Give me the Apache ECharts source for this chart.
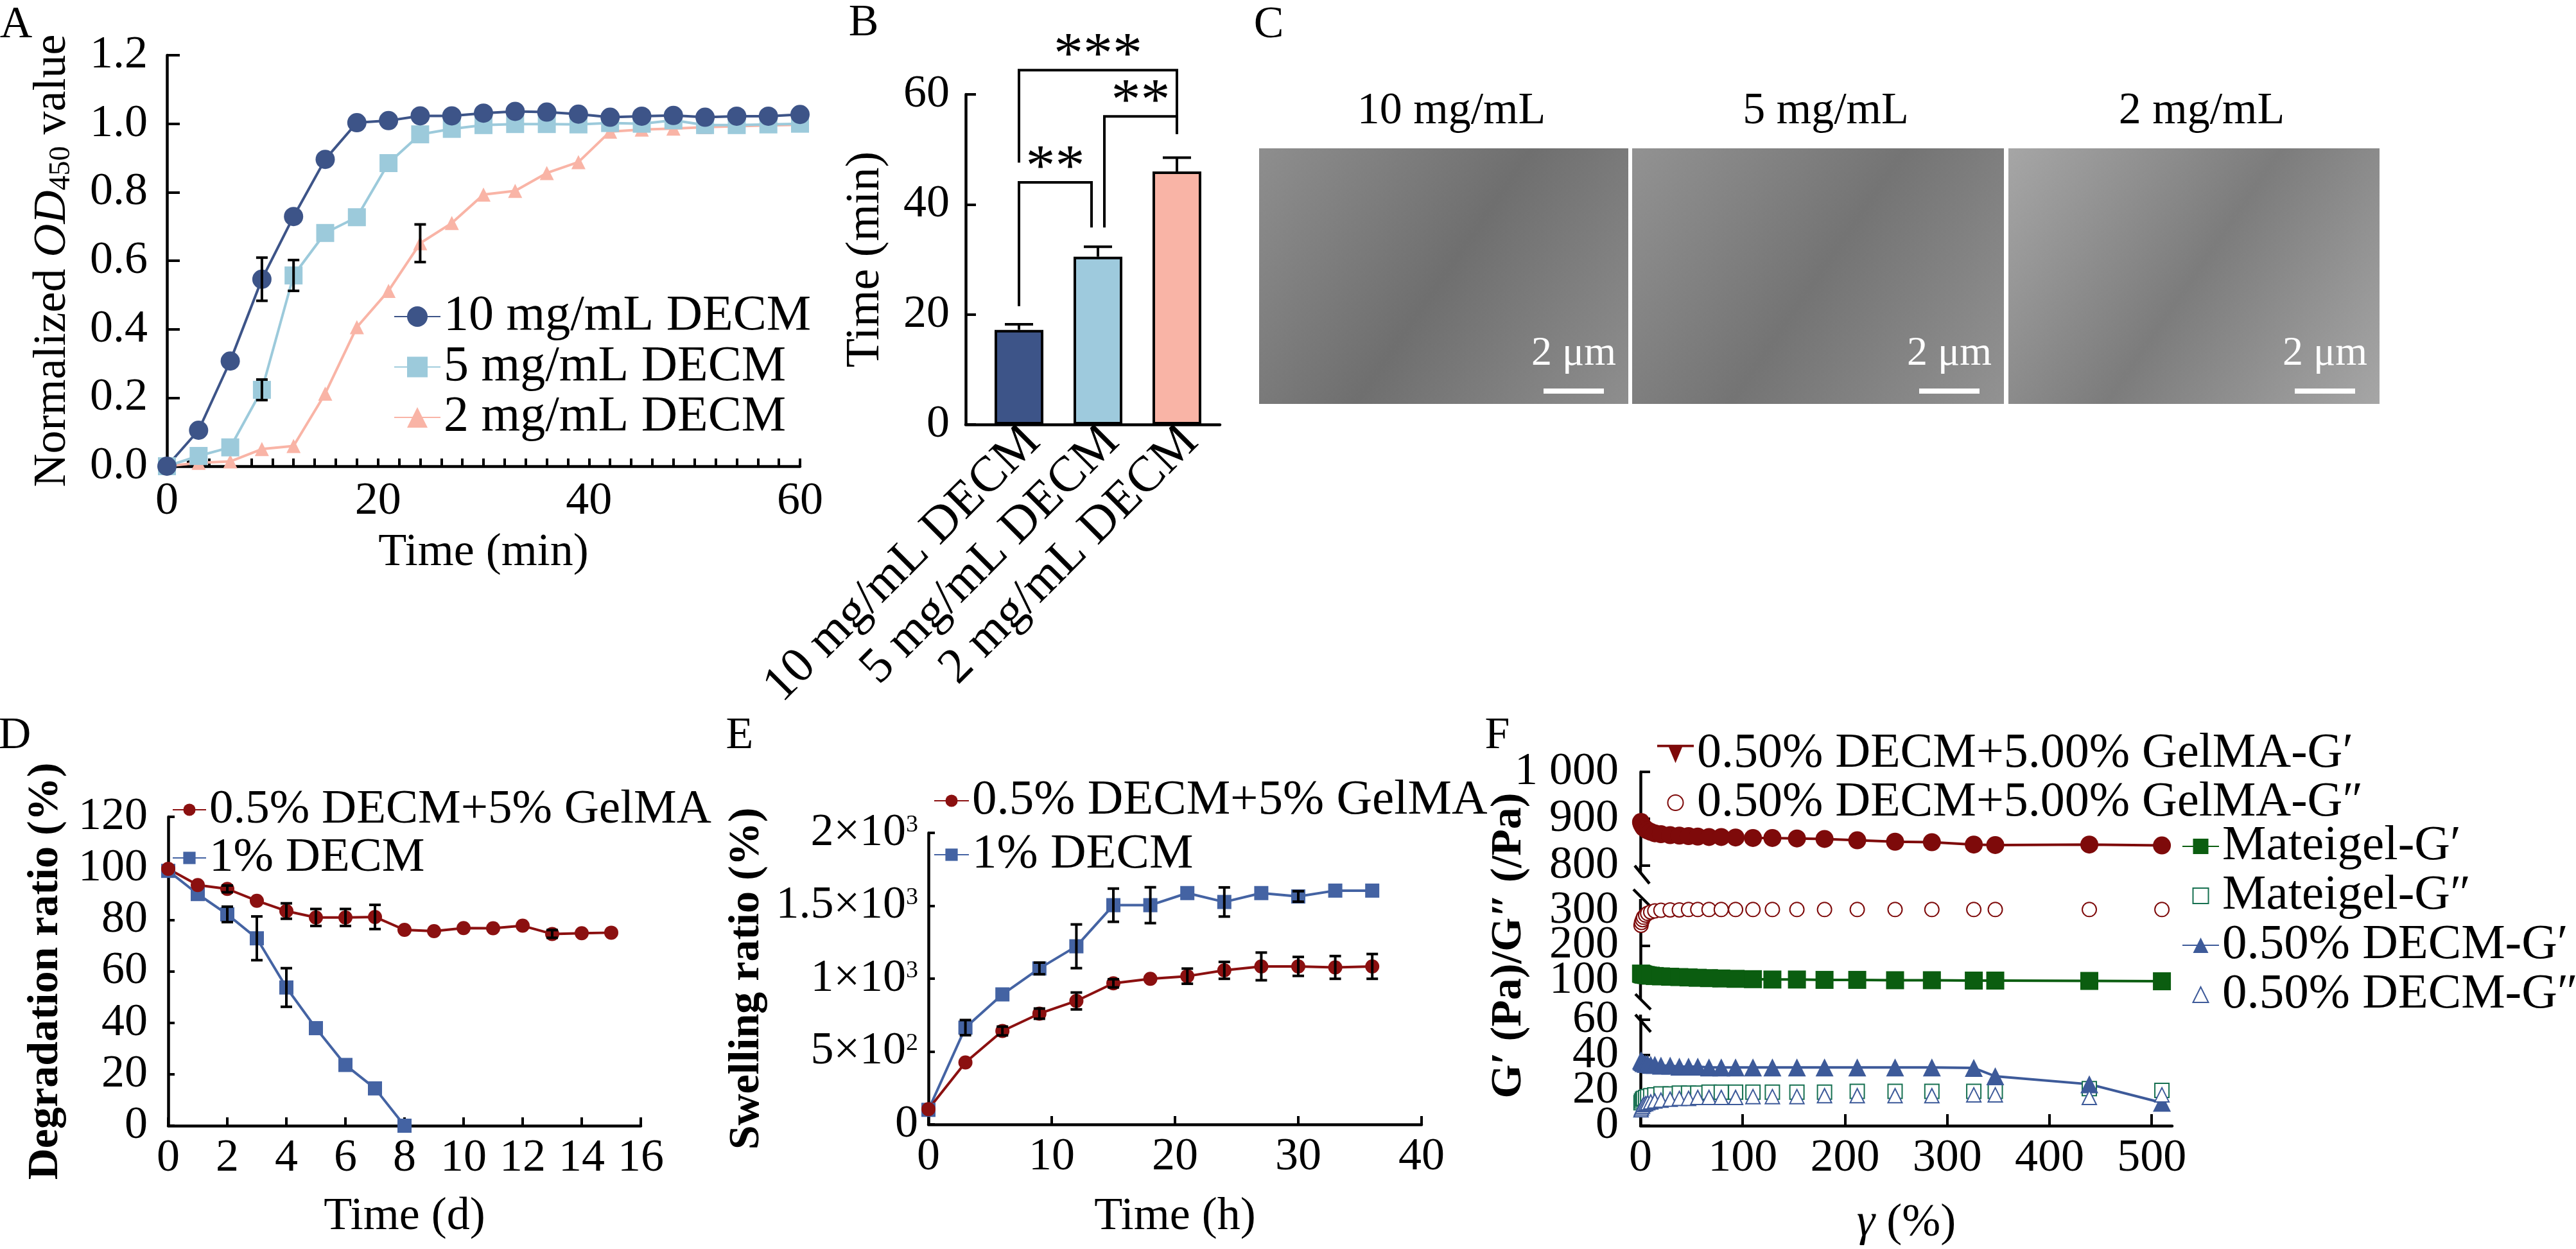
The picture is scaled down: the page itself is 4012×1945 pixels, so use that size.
<!DOCTYPE html>
<html>
<head>
<meta charset="utf-8">
<title>DECM hydrogel characterisation</title>
<script src="https://cdn.jsdelivr.net/npm/echarts@6.0.0/dist/echarts.min.js"></script>
<style>
  html, body { margin: 0; padding: 0; background: #fff; }
  #chart { width: 4012px; height: 1945px; }
</style>
</head>
<body>
<div id="chart"></div>
<script>
const FONT = 'Liberation Serif';

// A - gelation kinetics, normalized OD450
const gelMinutes = [0, 3, 6, 9, 12, 15, 18, 21, 24, 27, 30, 33, 36, 39, 42, 45, 48, 51, 54, 57, 60];
const od10 = [0, 0.105, 0.307, 0.546, 0.729, 0.896, 1.003, 1.009, 1.023, 1.023, 1.031, 1.036, 1.034, 1.028, 1.019, 1.022, 1.024, 1.019, 1.022, 1.022, 1.027];
const od5 = [0, 0.03, 0.055, 0.223, 0.557, 0.681, 0.727, 0.885, 0.969, 0.985, 0.996, 0.999, 0.999, 0.998, 1.002, 1.0, 1.01, 0.996, 0.996, 0.998, 1.0];
const od2 = [0, 0.01, 0.014, 0.05, 0.059, 0.212, 0.406, 0.512, 0.651, 0.71, 0.793, 0.804, 0.856, 0.888, 0.977, 0.983, 0.986, 0.99, 0.993, 0.995, 0.997];
const od10Sd = [0, 0, 0, 0.063, 0, 0, 0, 0, 0, 0, 0, 0, 0, 0, 0, 0, 0, 0, 0, 0, 0];
const od5Sd = [0, 0, 0, 0.03, 0.045, 0, 0, 0, 0, 0, 0, 0, 0, 0, 0, 0, 0, 0, 0, 0, 0];
const od2Sd = [0, 0, 0, 0, 0, 0, 0, 0, 0.055, 0, 0, 0, 0, 0, 0, 0, 0, 0, 0, 0, 0];

// B - gelation time
const gelGroups = ['10 mg/mL DECM', '5 mg/mL DECM', '2 mg/mL DECM'];
const gelGroupPos = [0, 1, 2];
const gelTimeMean = [17.2, 30.5, 46.0];
const gelTimeSd = [1.0, 1.8, 2.5];
// [left group, right group, left foot, right foot, bracket height]
const sigPairs = [[0, 2, 47.6, 52.8, 64.4], [0, 1, 21.5, 35.8, 44.0], [1, 2, 35.8, 52.8, 56.0]];
const sigMarks = ['***', '**', '**'];

// C - SEM panels
const semLabels = ['10 mg/mL', '5 mg/mL', '2 mg/mL'];

// D - degradation
const degDays = [0, 1, 2, 3, 4, 5, 6, 7, 8, 9, 10, 11, 12, 13, 14, 15];
const degBlend = [99.8, 93.5, 92.0, 87.4, 83.4, 80.9, 80.9, 81.1, 76.1, 75.6, 76.8, 76.7, 77.7, 74.5, 74.8, 75.0];
const degBlendSd = [0, 0, 1.3, 0, 3.0, 3.3, 3.3, 4.7, 0, 0, 0, 0, 0, 1.5, 0, 0];
const degDecmDays = [0, 1, 2, 3, 4, 5, 6, 7, 8];
const degDecm = [99.0, 90.0, 82.1, 72.8, 53.7, 37.9, 23.6, 14.5, 0];
const degDecmSd = [0, 0, 3.0, 8.5, 7.5, 0, 0, 0, 0];

// E - swelling
const swellHours = [0, 3, 6, 9, 12, 15, 18, 21, 24, 27, 30, 33, 36];
const swellBlend = [105, 425, 641, 760, 847, 968, 999, 1017, 1057, 1084, 1084, 1077, 1084];
const swellBlendSd = [0, 0, 30, 35, 58, 28, 0, 52, 58, 95, 65, 78, 85];
const swellDecm = [100, 664, 892, 1070, 1222, 1504, 1504, 1587, 1526, 1587, 1564, 1604, 1604];
const swellDecmSd = [0, 52, 0, 40, 150, 114, 123, 0, 100, 0, 36, 0, 0];
const swellTicks = [0, 500, 1000, 1500, 2000];
const swellTickText = ['0', '5×10^2', '1×10^3', '1.5×10^3', '2×10^3'];

// F - strain sweep
const strain = [0.5, 1, 2, 3, 5, 7, 10, 14, 20, 29, 38, 47, 56, 67, 79, 93, 110, 129, 153, 180, 212, 249, 285, 326, 347, 439, 510];
const blendG1 = [893, 889, 885, 881, 878, 875, 872, 869, 867, 865, 864, 863, 862, 861, 861, 860, 859, 859, 858, 857, 854, 851, 850, 845, 844, 845, 843];
const blendG2 = [258, 266, 274, 281, 287, 292, 296, 299, 301, 302, 302, 303, 303, 303, 303, 303, 303, 303, 303, 303, 303, 303, 303, 303, 303, 303, 303];
const mateG1 = [120, 119, 118, 117, 116, 115, 114, 113, 112, 111, 110, 109, 108, 107, 106, 105, 104, 103, 103, 102, 102, 101, 101, 100, 100, 99, 98];
const mateG2 = [13, 14, 15, 15.5, 16, 16.5, 17, 17.5, 18, 18, 18.5, 18.5, 18.5, 19, 19, 19, 19, 19, 19, 19, 19.5, 19.5, 19.5, 19.5, 19.5, 21, 20];
const decmG1 = [37, 36.5, 36, 35.5, 35, 35, 34.5, 34.5, 34, 34, 33.5, 33.5, 33.5, 33, 33, 33, 33, 33, 33, 33, 33, 33, 33, 32.7, 28, 23.5, 13];
const decmG2 = [9, 10, 11, 12, 12.5, 13, 13.5, 14, 14.5, 15, 15.5, 15.5, 16, 16, 16, 16, 16.5, 16.5, 16.5, 17, 17, 17, 17, 17.5, 17.5, 16, 17.5];
const fTopTickText = { 800: '800', 900: '900', 1000: '1 000' };

const C10 = '#3d5488', C5 = '#9ccadb', C2 = '#f9b4a6';
const RED = '#8b1010', BLUE = '#4463a3';
const FRED = '#7e0a0a', FGREEN = '#0b5d10', FGREEN2 = '#167050', FBLUE = '#3d5a99';

const chart = echarts.init(document.getElementById('chart'));

function pairs(xs, ys) { return xs.map((x, i) => [x, ys[i]]); }

function errRender(cap, upOnly) {
  return function (params, api) {
    const x = api.value(0), y = api.value(1), e = api.value(2);
    const hi = api.coord([x, y + e]);
    const lo = api.coord([x, upOnly ? y : y - e]);
    const st = { stroke: '#000', lineWidth: 4 };
    const kids = [
      { type: 'line', shape: { x1: hi[0], y1: hi[1], x2: lo[0], y2: lo[1] }, style: st },
      { type: 'line', shape: { x1: hi[0] - cap, y1: hi[1], x2: hi[0] + cap, y2: hi[1] }, style: st }
    ];
    if (!upOnly) kids.push({ type: 'line', shape: { x1: lo[0] - cap, y1: lo[1], x2: lo[0] + cap, y2: lo[1] }, style: st });
    return { type: 'group', children: kids };
  };
}

function errSeries(ax, xs, ys, sd, cap) {
  return {
    type: 'custom', xAxisIndex: ax, yAxisIndex: ax, silent: true, z: 6,
    renderItem: errRender(cap, false),
    data: xs.map((x, i) => [x, ys[i], sd[i]]).filter(d => d[2] > 0)
  };
}

function lineSeries(name, ax, xs, ys, color, symbol, size, lineW) {
  const empty = symbol.indexOf('empty') === 0;
  return {
    type: 'line', name, xAxisIndex: ax, yAxisIndex: ax, clip: false,
    data: pairs(xs, ys), symbol, symbolSize: size, showAllSymbol: true,
    color,
    lineStyle: { color, width: lineW },
    itemStyle: { color, borderColor: color, borderWidth: empty ? 3 : 0 },
    z: 3
  };
}

function sigRender(params, api) {
  const i0 = api.value(0), i1 = api.value(1);
  const a = api.coord([i0, api.value(2)]);
  const b = api.coord([i1, api.value(3)]);
  const top = api.coord([i0, api.value(4)])[1];
  const ax = a[0] + (i0 === 1 ? 10 : 0);
  const bx = b[0] - (i1 === 1 ? 10 : 0);
  return {
    type: 'group', children: [
      { type: 'polyline', shape: { points: [[ax, a[1]], [ax, top], [bx, top], [bx, b[1]]] }, style: { stroke: '#000', fill: 'none', lineWidth: 4 } },
      { type: 'text', style: { text: sigMarks[params.dataIndex], x: (ax + bx) / 2, y: top - 20, align: 'center', verticalAlign: 'middle', fontSize: 92, fontFamily: FONT, fill: '#000' } }
    ]
  };
}

function axis(o) {
  const a = {
    type: o.type || 'value', gridIndex: o.grid, show: o.show !== false,
    min: o.min, max: o.max, interval: o.interval,
    axisLine: { show: o.line !== false, onZero: false, lineStyle: { color: '#000', width: 4.5 } },
    axisTick: { show: true, inside: true, length: o.tick || 12, lineStyle: { color: '#000', width: 4 } },
    axisLabel: {
      color: '#000', fontFamily: FONT, fontSize: o.fs || 72, margin: o.margin, formatter: o.fmt,
      showMinLabel: o.showMin !== false, showMaxLabel: o.showMax !== false, hideOverlap: false,
      rotate: o.rotate || 0, rich: o.rich
    },
    splitLine: { show: false },
    name: o.name, nameLocation: 'middle', nameGap: o.nameGap,
    nameTextStyle: Object.assign({ color: '#000', fontFamily: FONT, fontSize: 72 }, o.nameStyle || {})
  };
  if (o.grid >= 4) a.position = o.position || 'left';
  if (o.custom) { a.axisTick.customValues = o.custom; a.axisLabel.customValues = o.custom; }
  if (o.minor) a.minorTick = { show: true, splitNumber: o.minor, length: o.tick || 12, lineStyle: { color: '#000', width: 4 } };
  return a;
}

function legendBox(names, left, firstRowY, rowH, iconW, iconH, fs, icons) {
  return {
    show: true, orient: 'vertical', left, top: firstRowY - rowH / 2, padding: 0,
    itemWidth: iconW, itemHeight: iconH, itemGap: 0, selectedMode: false,
    textStyle: { fontFamily: FONT, fontSize: fs, color: '#000', lineHeight: rowH },
    data: names.map((n, i) => (icons && icons[i]) ? { name: n, icon: icons[i] } : n)
  };
}

const boldTitle = { fontWeight: 'bold', fontSize: 68 };

const option = {
  animation: false,
  backgroundColor: '#fff',
  textStyle: { fontFamily: FONT },
  grid: [
    { left: 260, top: 86, width: 986, height: 640 },     // A
    { left: 1504, top: 147, width: 396, height: 514 },   // B
    { left: 262, top: 1272, width: 736, height: 481 },   // D
    { left: 1446, top: 1297, width: 768, height: 454 },  // E
    { left: 2555, top: 1202, width: 828, height: 146 },  // F top
    { left: 2555, top: 1418, width: 828, height: 109 },  // F middle
    { left: 2555, top: 1588, width: 828, height: 165 }   // F bottom
  ],
  xAxis: [
    axis({ grid: 0, min: 0, max: 60, interval: 20, minor: 10, margin: 19, name: 'Time (min)', nameGap: 99 }),
    // group axis: groups sit at 0,1,2 with the axis running a little past them on both sides
    axis({ grid: 1, min: -0.675, max: 2.545, custom: gelGroupPos, tick: 16, margin: -6, rotate: 45, fs: 78,
      fmt: v => '{c|' + gelGroups[Math.round(v)] + '}',
      rich: { c: { fontSize: 78, fontFamily: FONT, color: '#000', padding: [60, 0, 0, 0] } } }),
    axis({ grid: 2, min: 0, max: 16, interval: 2, tick: 13, margin: 15, name: 'Time (d)', nameGap: 106 }),
    axis({ grid: 3, min: 0, max: 40, interval: 10, tick: 13, margin: 15, name: 'Time (h)', nameGap: 108 }),
    axis({ grid: 4, min: 0, max: 520, show: false, position: 'bottom' }),
    axis({ grid: 5, min: 0, max: 520, show: false, position: 'bottom' }),
    axis({ grid: 6, min: 0, max: 520, interval: 100, tick: 18, margin: 15, showMax: false, position: 'bottom',
      fmt: v => (v % 100 === 0 ? String(v) : ''),
      name: '{i|γ} (%)', nameGap: 116,
      nameStyle: { rich: { i: { fontStyle: 'italic', fontFamily: FONT, fontSize: 72, color: '#000' } } } })
  ],
  yAxis: [
    axis({ grid: 0, min: 0, max: 1.2, interval: 0.2, tick: 20, margin: 30, fmt: v => v.toFixed(1),
      name: '{t|Normalized }{i|OD}{s|450}{t| value}', nameGap: 141,
      nameStyle: { rich: {
        t: { fontSize: 72, fontFamily: FONT, color: '#000' },
        i: { fontSize: 72, fontFamily: FONT, fontStyle: 'italic', color: '#000' },
        s: { fontSize: 46, fontFamily: FONT, color: '#000', verticalAlign: 'bottom', padding: [28, 0, 0, 0] }
      } } }),
    axis({ grid: 1, min: 0, max: 60, interval: 20, tick: 16, margin: 25, name: 'Time (min)', nameGap: 118, nameStyle: { fontSize: 74 } }),
    axis({ grid: 2, min: 0, max: 120, interval: 20, tick: 10, margin: 32, name: 'Degradation ratio (%)', nameGap: 157, nameStyle: boldTitle }),
    axis({ grid: 3, min: 0, max: 2000, interval: 500, tick: 10, margin: 16, name: 'Swelling ratio (%)', nameGap: 249, nameStyle: boldTitle,
      fmt: v => {
        const k = swellTicks.indexOf(v);
        if (k < 0) return '';
        const p = swellTickText[k].split('^');
        return p.length > 1 ? '{b|' + p[0] + '}{s|' + p[1] + '}' : '{b|' + p[0] + '}';
      },
      rich: {
        b: { fontSize: 72, fontFamily: FONT, color: '#000', lineHeight: 62 },
        s: { fontSize: 38, fontFamily: FONT, color: '#000', verticalAlign: 'top', lineHeight: 38 }
      } }),
    axis({ grid: 4, min: 800, max: 1000, interval: 100, tick: 15, margin: 34, fmt: v => fTopTickText[v] || '' }),
    axis({ grid: 5, min: 100, max: 300, interval: 100, tick: 15, margin: 34,
      name: 'G′ (Pa)/G″ (/Pa)', nameGap: 171, nameStyle: boldTitle }),
    axis({ grid: 6, min: 0, max: 60, interval: 20, tick: 15, margin: 34 }),
    // companions carrying the inner tick labels of the tightly packed F segments
    axis({ grid: 5, min: 100, max: 300, interval: 100, tick: 15, margin: 34, line: false, showMin: false, showMax: false }),
    axis({ grid: 6, min: 0, max: 60, interval: 20, tick: 15, margin: 34, line: false, showMin: false, showMax: false })
  ],
  legend: [
    legendBox(['10 mg/mL DECM', '5 mg/mL DECM', '2 mg/mL DECM'], 613, 493, 78.5, 72, 40, 78),
    legendBox(['0.5% DECM+5% GelMA', '1% DECM'], 268, 1259, 71, 52, 24, 75),
    legendBox(['0.5% DECM+5% GelMA', '1% DECM'], 1454, 1247, 84, 54, 24, 77),
    legendBox(['0.50% DECM+5.00% GelMA-G′', '0.50% DECM+5.00% GelMA-G″'], 2581, 1165, 58, 57, 30, 76,
      ['path://M0,0 L60,0 L60,4 L0,4 Z M19,4 L41,4 L30,30 Z', null]),
    legendBox(['Mateigel-G′', 'Mateigel-G″', '0.50% DECM-G′', '0.50% DECM-G″'], 3398, 1317, 75, 57, 30, 77)
  ],
  series: [
    // A
    lineSeries('2 mg/mL DECM', 0, gelMinutes, od2, C2, 'triangle', 22, 4),
    lineSeries('5 mg/mL DECM', 0, gelMinutes, od5, C5, 'rect', 28, 4),
    lineSeries('10 mg/mL DECM', 0, gelMinutes, od10, C10, 'circle', 30, 4),
    errSeries(0, gelMinutes, od10, od10Sd, 9),
    errSeries(0, gelMinutes, od5, od5Sd, 9),
    errSeries(0, gelMinutes, od2, od2Sd, 9),
    // B
    {
      type: 'bar', xAxisIndex: 1, yAxisIndex: 1, barWidth: 76,
      data: gelTimeMean.map((v, i) => ({ value: [gelGroupPos[i], v], itemStyle: { color: [C10, '#9ecadd', C2][i] } })),
      itemStyle: { borderColor: '#000', borderWidth: 4 }, z: 2
    },
    {
      type: 'custom', xAxisIndex: 1, yAxisIndex: 1, silent: true, z: 6,
      renderItem: errRender(22, true),
      data: gelTimeMean.map((v, i) => [gelGroupPos[i], v, gelTimeSd[i]])
    },
    {
      type: 'custom', xAxisIndex: 1, yAxisIndex: 1, silent: true, z: 6, clip: false,
      renderItem: sigRender, data: sigPairs
    },
    // D
    lineSeries('1% DECM', 2, degDecmDays, degDecm, BLUE, 'rect', 22, 4),
    lineSeries('0.5% DECM+5% GelMA', 2, degDays, degBlend, RED, 'circle', 22, 4),
    errSeries(2, degDays, degBlend, degBlendSd, 9),
    errSeries(2, degDecmDays, degDecm, degDecmSd, 9),
    // E
    lineSeries('1% DECM', 3, swellHours, swellDecm, BLUE, 'rect', 22, 4),
    lineSeries('0.5% DECM+5% GelMA', 3, swellHours, swellBlend, RED, 'circle', 22, 4),
    errSeries(3, swellHours, swellBlend, swellBlendSd, 9),
    errSeries(3, swellHours, swellDecm, swellDecmSd, 9),
    // F
    lineSeries('0.50% DECM+5.00% GelMA-G′', 4, strain, blendG1, FRED, 'circle', 28, 4),
    lineSeries('0.50% DECM+5.00% GelMA-G″', 5, strain, blendG2, FRED, 'emptyCircle', 22, 0),
    lineSeries('Mateigel-G′', 5, strain, mateG1, FGREEN, 'rect', 28, 4),
    lineSeries('Mateigel-G″', 6, strain, mateG2, FGREEN2, 'emptyRect', 22, 0),
    lineSeries('0.50% DECM-G′', 6, strain, decmG1, FBLUE, 'triangle', 28, 4),
    lineSeries('0.50% DECM-G″', 6, strain, decmG2, FBLUE, 'emptyTriangle', 22, 0)
  ],
  graphic: []
};

// panel letters
[['A', 25, 40], ['B', 1345, 37], ['C', 1976, 40], ['D', 23, 1147], ['E', 1152, 1147], ['F', 2332, 1147]].forEach(p => {
  option.graphic.push({ type: 'text', x: p[1], y: p[2], style: { text: p[0], fontSize: 70, fontFamily: FONT, fill: '#000', align: 'center', verticalAlign: 'middle' } });
});

// C: SEM micrograph tiles (photographs cannot be redrawn; grey tiles stand in)
const semBoxes = [[1961, 575], [2542, 579], [3128, 578]];
const semTones = [['#8e8e8e', '#6f6f6f'], ['#929292', '#747474'], ['#a6a6a6', '#7c7c7c']];
semBoxes.forEach((b, i) => {
  option.graphic.push({
    type: 'rect', shape: { x: b[0], y: 231, width: b[1], height: 398 },
    style: { fill: { type: 'linear', x: 0, y: 0, x2: 1, y2: 1, colorStops: [{ offset: 0, color: semTones[i][0] }, { offset: 0.5, color: semTones[i][1] }, { offset: 1, color: semTones[i][0] }] } }
  });
  const cx = b[0] + b[1] - 85;
  option.graphic.push({ type: 'rect', shape: { x: cx - 47, y: 605, width: 94, height: 8 }, style: { fill: '#fff' } });
  option.graphic.push({ type: 'text', x: cx, y: 551, style: { text: '2 μm', fontSize: 64, fontFamily: FONT, fill: '#fff', align: 'center', verticalAlign: 'middle' } });
  option.graphic.push({ type: 'text', x: b[0] + b[1] / 2 + 12, y: 174, style: { text: semLabels[i], fontSize: 70, fontFamily: FONT, fill: '#000', align: 'center', verticalAlign: 'middle' } });
});

// F: broken-axis marks
const brk = [
  [2555, 1348, 2555, 1360], [2546, 1348, 2569, 1376], [2544, 1385, 2569, 1410], [2555, 1400, 2555, 1418],
  [2555, 1527, 2555, 1556], [2547, 1548, 2571, 1572], [2547, 1580, 2571, 1607], [2555, 1580, 2555, 1588]
];
brk.forEach(s => option.graphic.push({ type: 'line', shape: { x1: s[0], y1: s[1], x2: s[2], y2: s[3] }, style: { stroke: '#000', lineWidth: 4.5 } }));

chart.setOption(option);
</script>
</body>
</html>
